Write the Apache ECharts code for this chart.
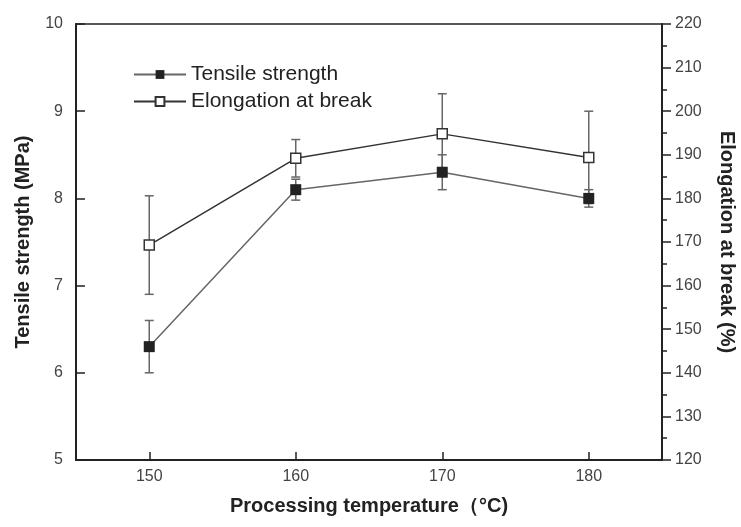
<!DOCTYPE html>
<html>
<head>
<meta charset="utf-8">
<script src="https://cdn.jsdelivr.net/npm/echarts@6/dist/echarts.min.js"></script>
<style>html,body{margin:0;padding:0;background:#fff}#c{width:741px;height:527px}</style>
</head>
<body>
<div id="c"></div>
<script>
const temperatures = [150, 160, 170, 180];
const tensileStrength = [6.3, 8.1, 8.3, 8.0];
const tensileError = [0.3, 0.12, 0.2, 0.1];
const elongation = [169.3, 189.2, 194.8, 189.4];
const elongationError = [11.3, 4.3, 9.2, 10.6];
const xTicks = [150, 160, 170, 180];

const font = '"Liberation Sans", Arial, sans-serif';
const chart = echarts.init(document.getElementById('c'), null, {renderer: 'canvas'});

function errData(vals, errs) {
  return temperatures.map((t, i) => [t, vals[i] - errs[i], vals[i] + errs[i]]);
}
function errRender(params, api) {
  const x = api.value(0);
  const lo = api.coord([x, api.value(1)]);
  const hi = api.coord([x, api.value(2)]);
  const w = 4.5;
  const st = {stroke: '#666', lineWidth: 1.5};
  return {type: 'group', children: [
    {type: 'line', shape: {x1: lo[0], y1: lo[1], x2: hi[0], y2: hi[1]}, style: st},
    {type: 'line', shape: {x1: lo[0]-w, y1: lo[1], x2: lo[0]+w, y2: lo[1]}, style: st},
    {type: 'line', shape: {x1: hi[0]-w, y1: hi[1], x2: hi[0]+w, y2: hi[1]}, style: st}
  ]};
}

chart.setOption({
  backgroundColor: '#fff',
  animation: false,
  textStyle: {fontFamily: font},
  grid: {left: 76, right: 79, top: 24, bottom: 67, show: true, borderColor: '#222', borderWidth: 1.5,
         containLabel: false, outerBoundsMode: 'none'},
  legend: {
    left: 128, top: 59, orient: 'vertical', itemGap: 6, itemWidth: 52, itemHeight: 11,
    textStyle: {fontSize: 21, color: '#222', fontFamily: font},
    data: ['Tensile strength', 'Elongation at break']
  },
  xAxis: {
    type: 'value', min: 145, max: 185, interval: 5,
    name: 'Processing temperature（°C)', nameLocation: 'middle', nameGap: 36,
    nameTextStyle: {fontSize: 20, fontWeight: 'bold', color: '#222', fontFamily: font},
    axisLine: {lineStyle: {color: '#222', width: 2}},
    axisTick: {inside: true, length: 8, customValues: xTicks, lineStyle: {color: '#222', width: 1.5}},
    axisLabel: {customValues: xTicks, margin: 9, fontSize: 16, color: '#444', fontFamily: font},
    splitLine: {show: false}
  },
  yAxis: [{
    type: 'value', min: 5, max: 10, interval: 1, position: 'left',
    name: 'Tensile strength (MPa)', nameLocation: 'middle', nameGap: 43, nameRotate: 90,
    nameTextStyle: {fontSize: 20, fontWeight: 'bold', color: '#222', fontFamily: font},
    axisLine: {show: true, lineStyle: {color: '#222', width: 2}},
    axisTick: {show: true, inside: true, length: 9, lineStyle: {color: '#222', width: 1.5}},
    axisLabel: {margin: 13, fontSize: 16, color: '#444', fontFamily: font},
    splitLine: {show: false}
  }, {
    type: 'value', min: 120, max: 220, interval: 10, position: 'right',
    name: 'Elongation at break (%)', nameLocation: 'middle', nameGap: 55, nameRotate: -90,
    nameTextStyle: {fontSize: 20, fontWeight: 'bold', color: '#222', fontFamily: font},
    axisLine: {show: true, lineStyle: {color: '#222', width: 2}},
    axisTick: {show: true, inside: false, length: 9, lineStyle: {color: '#222', width: 1.5}},
    minorTick: {show: true, splitNumber: 2, length: 5, lineStyle: {color: '#222', width: 1.5}},
    axisLabel: {margin: 13, fontSize: 16, color: '#444', fontFamily: font},
    splitLine: {show: false}
  }],
  series: [{
    type: 'custom', yAxisIndex: 0, renderItem: errRender, z: 1,
    data: errData(tensileStrength, tensileError), silent: true
  }, {
    type: 'custom', yAxisIndex: 1, renderItem: errRender, z: 1,
    data: errData(elongation, elongationError), silent: true
  }, {
    name: 'Tensile strength', type: 'line', yAxisIndex: 0, z: 3,
    data: temperatures.map((t, i) => [t, tensileStrength[i]]),
    symbol: 'rect', symbolSize: 11,
    itemStyle: {color: '#222', borderColor: '#222', borderWidth: 0},
    lineStyle: {color: '#666', width: 1.5}
  }, {
    name: 'Elongation at break', type: 'line', yAxisIndex: 1, z: 3,
    data: temperatures.map((t, i) => [t, elongation[i]]),
    symbol: 'rect', symbolSize: 10,
    itemStyle: {color: '#fff', borderColor: '#333', borderWidth: 1.5},
    lineStyle: {color: '#333', width: 1.5}
  }]
});
</script>
</body>
</html>
